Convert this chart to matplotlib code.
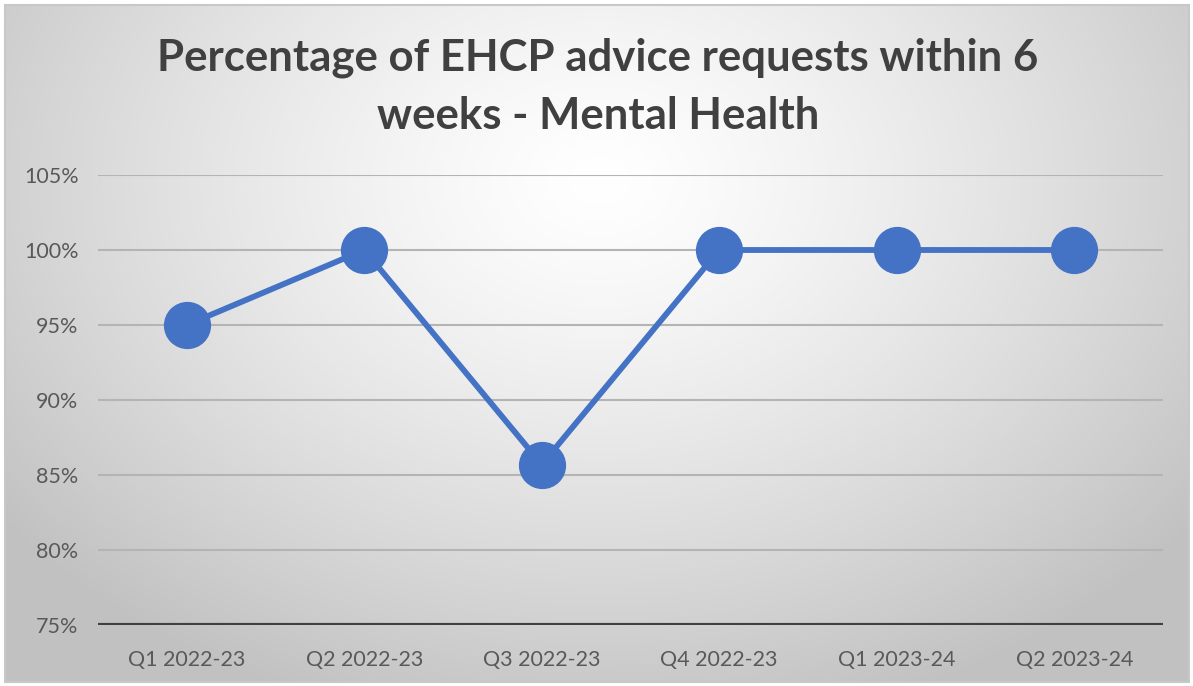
import numpy as np
import matplotlib
matplotlib.use("Agg")
import matplotlib.pyplot as plt
from matplotlib.patches import Rectangle

categories = ["Q1 2022-23", "Q2 2022-23", "Q3 2022-23", "Q4 2022-23", "Q1 2023-24", "Q2 2023-24"]
values = [95.0, 100.0, 85.7, 100.0, 100.0, 100.0]
yticks = [75, 80, 85, 90, 95, 100, 105]
title = "Percentage of EHCP advice requests within 6\nweeks - Mental Health"

W, H = 1193, 686
fig = plt.figure(figsize=(W / 100, H / 100), dpi=100)
fig.patch.set_facecolor("white")

# background radial gradient
bg = fig.add_axes([0, 0, 1, 1], zorder=0)
bg.set_xlim(0, W)
bg.set_ylim(H, 0)
bg.axis("off")
x0, y0, x1, y1 = 5, 5, 1189, 682
xs = np.linspace(x0, x1, 600)
ys = np.linspace(y0, y1, 350)
X, Y = np.meshgrid(xs, ys)
cx, cy = 600, 180
d = np.sqrt(((X - cx) / 750) ** 2 + ((Y - cy) / 560) ** 2)
d = np.clip(d, 0, 1)
g = 1.0 - 0.24 * d ** 1.3
img = np.dstack([g, g, g])
bg.imshow(img, extent=(x0, x1, y1, y0), aspect="auto", interpolation="bilinear")
bg.add_patch(Rectangle((x0, y0), x1 - x0, y1 - y0, fill=False, edgecolor="#c8c8c8", linewidth=1.5))

ax = fig.add_axes([98 / W, (H - 625) / H, (1163 - 98) / W, (625 - 175) / H], zorder=1)
ax.patch.set_alpha(0)
xpos = np.arange(len(categories))
ax.set_xlim(-0.5, len(categories) - 0.5)
ax.set_ylim(75, 105)
for t in yticks[1:]:
    ax.axhline(t, color="#b4b4b4", linewidth=1.5, zorder=1)
ax.axhline(75, color="#404040", linewidth=3, zorder=2)
for s in ax.spines.values():
    s.set_visible(False)

ax.plot(xpos, values, color="#4472C4", linewidth=4.2, marker="o", markersize=33,
        markerfacecolor="#4472C4", markeredgecolor="#4472C4", zorder=3, clip_on=False)

ax.set_yticks(yticks)
ax.set_yticklabels([f"{t}%" for t in yticks])
ax.set_xticks(xpos)
ax.set_xticklabels(categories)
ax.tick_params(axis="both", length=0, labelsize=15.5, labelcolor="#595959")
ax.tick_params(axis="y", pad=14)
ax.tick_params(axis="x", pad=18)
for lab in ax.get_xticklabels() + ax.get_yticklabels():
    lab.set_fontfamily("Lato")

fig.text(598 / W, 1 - 87 / H, title, ha="center", va="center", fontsize=31.5,
         fontweight="bold", color="#404040", family="Lato", linespacing=1.55)

fig.savefig("out.png", dpi=100)
